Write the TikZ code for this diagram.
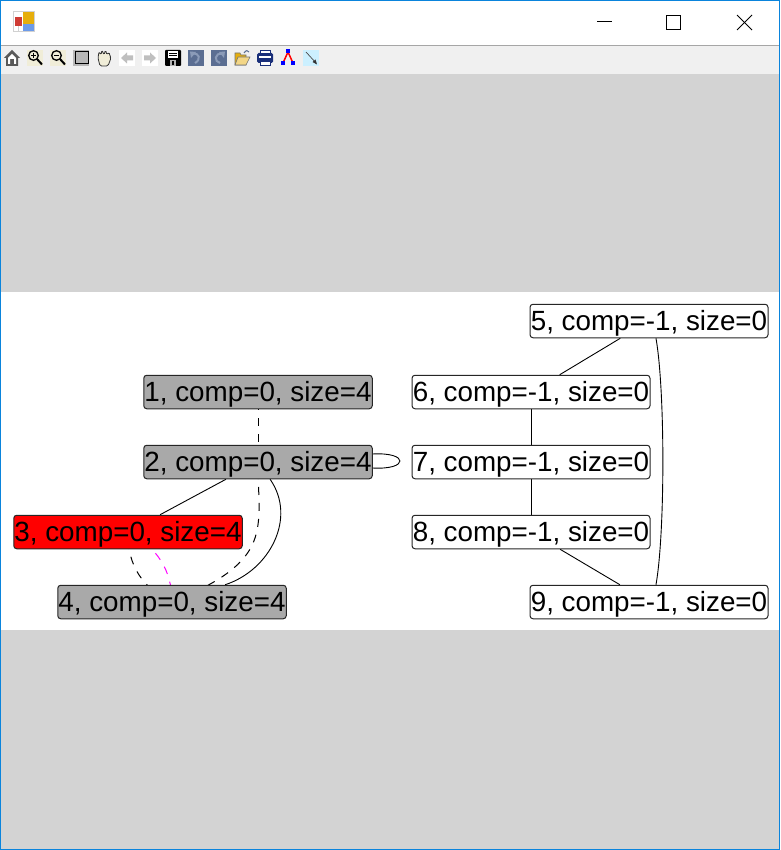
\documentclass[tikz,border=0pt]{standalone}
\usepackage{fontspec}
\setmainfont{Liberation Sans}
\usetikzlibrary{backgrounds}

\definecolor{winblue}{HTML}{0A84DC}
\definecolor{barback}{HTML}{F0F0F0}
\definecolor{panelgray}{HTML}{D3D3D3}
\definecolor{seengray}{HTML}{A9A9A9}
\definecolor{iconbeige}{HTML}{F0EDD8}
\definecolor{iconslate}{HTML}{5B6E92}
\definecolor{iconpale}{HTML}{8B9BB8}
\definecolor{iconnavy}{HTML}{1A2F7A}
\definecolor{icongold}{HTML}{E6AE0C}
\definecolor{iconsky}{HTML}{6C9BEA}
\definecolor{iconred}{HTML}{CF3B34}
\definecolor{purepink}{HTML}{FF00FF}

\tikzset{
	vertex/.style={draw=black!85, line width=1pt, rounded corners=3pt, inner sep=0pt, minimum height=33.5pt, text height=20pt, text depth=2pt, font=\fontsize{27.8}{30}\selectfont},
	seen/.style={vertex, minimum width=228.5pt, fill=seengray},
	fresh/.style={vertex, minimum width=238pt, fill=white},
	edge/.style={line width=0.9pt, black},
	gapped/.style={edge, line width=1pt, dash pattern=on 8pt off 8pt, dash phase=7pt},
	arrowicon/.style={fill=black!25, draw=none},
	slateicon/.style={fill=iconslate, draw=none}
}

\begin{document}
\begin{tikzpicture}[x=1pt, y=-1pt]
		\useasboundingbox (0, 0) rectangle (780, 850);

		\node[seen] (n1) at (258, 392) {1, comp=0, size=4};
		\node[seen] (n2) at (258, 462) {2, comp=0, size=4};
		\node[seen, fill=red] (n3) at (128, 532) {3, comp=0, size=4};
		\node[seen] (n4) at (172, 602) {4, comp=0, size=4};
		\node[fresh] (n5) at (649, 321) {5, comp=-1, size=0};
		\node[fresh] (n6) at (531, 392) {6, comp=-1, size=0};
		\node[fresh] (n7) at (531, 462) {7, comp=-1, size=0};
		\node[fresh] (n8) at (531, 532) {8, comp=-1, size=0};
		\node[fresh] (n9) at (649, 602) {9, comp=-1, size=0};

		\begin{scope}[on background layer]
			\fill[white] (0, 0) rectangle (780, 850);
			\fill[barback] (1, 46) rectangle (779, 74);
			\draw[black!35, line width=0.8pt] (1, 45.5) -- (779, 45.5);
			\fill[panelgray] (1, 74) rectangle (779, 291.5);
			\fill[panelgray] (1, 630) rectangle (779, 849);
			\draw[winblue, line width=1pt] (0.5, 0.5) rectangle (779.5, 849.5);
			\draw[winblue, line width=1pt] (0, 1) -- (780, 1);

			\draw[edge] (n2) -- (n3);
			\draw[edge] (n5) -- (n6);
			\draw[edge] (n6) -- (n7);
			\draw[edge] (n7) -- (n8);
			\draw[edge] (n8) -- (n9);
			\draw[gapped] (n1) -- (n2);
			\draw[gapped] (n2.center) .. controls (258, 530) and (275, 560) .. (n4.center);
			\draw[gapped] (n3.center) .. controls (127, 565) and (143, 589) .. (n4.center);
			\draw[gapped, purepink, dash phase=13pt] (n3.center) .. controls (157, 547) and (172, 570) .. (n4.center);
			\draw[edge] (n2.-55) to[out=-55, in=18, looseness=1.05] (n4.18);
			\draw[edge] (n5.-68) to[out=-80, in=80, looseness=0.55] (n9.68);
			\draw[edge] (n2.4) .. controls (409, 452) and (409, 470) .. (n2.-3.5);
		\end{scope}

		\fill[black!18] (13, 11) rectangle (35, 32);
		\fill[white] (14, 12) rectangle (34, 31);
		\fill[black!18] (18, 26) rectangle (19, 31);
		\fill[icongold] (22.5, 12.5) rectangle (33.5, 24);
		\fill[iconsky] (22.5, 24) rectangle (33.5, 31);
		\fill[iconred] (14.5, 17.5) rectangle (22, 26);

		\draw[black, line width=1pt] (597, 22) -- (612, 22);
		\draw[black, line width=1pt] (666.5, 15.5) rectangle (680.5, 29.5);
		\draw[black, line width=0.9pt] (737, 15) -- (752, 30);
		\draw[black, line width=0.9pt] (752, 15) -- (737, 30);

		\fill[black!65] (4, 58) -- (12, 50) -- (20, 58) -- (18, 58) -- (18, 66) -- (6, 66) -- (6, 58) -- cycle;
		\fill[white] (8, 58) -- (12, 54) -- (16, 58) -- (16, 64) -- (14, 64) -- (14, 59) -- (10, 59) -- (10, 64) -- (8, 64) -- cycle;

		\fill[iconbeige] (27, 50) rectangle (43, 66);
		\draw[black, line width=1.3pt] (33.5, 55.5) circle (4.8);
		\draw[black, line width=2pt] (37, 59) -- (42, 64.5);
		\draw[black, line width=1pt] (31, 55.5) -- (36, 55.5) (33.5, 53) -- (33.5, 58);

		\fill[iconbeige] (50, 50) rectangle (66, 66);
		\draw[black, line width=1.3pt] (56.5, 55.5) circle (4.8);
		\draw[black, line width=2pt] (60, 59) -- (65, 64.5);
		\draw[black, line width=1pt] (54, 55.5) -- (59, 55.5);

		\fill[black!28] (73, 50) rectangle (89, 66);
		\draw[black, line width=1pt] (75, 52) rectangle (88, 64);

		\draw[black!80, fill=iconbeige, line width=0.8pt, rounded corners=1.5pt] (100, 66) -- (98, 58) -- (99, 51.5) -- (101, 55) -- (102, 50) -- (104, 55) -- (105.5, 50) -- (107, 55) -- (109, 52) -- (110, 56) -- (111, 58) -- (108, 66) -- cycle;

		\fill[white] (119, 50) rectangle (135, 66);
		\fill[white] (142, 50) rectangle (158, 66);
		\fill[arrowicon] (121, 58) -- (127, 52.5) -- (127, 55.5) -- (133, 55.5) -- (133, 60.5) -- (127, 60.5) -- (127, 63.5) -- cycle;
		\fill[arrowicon] (156, 58) -- (150, 52.5) -- (150, 55.5) -- (144, 55.5) -- (144, 60.5) -- (150, 60.5) -- (150, 63.5) -- cycle;

		\fill[black, rounded corners=1pt] (165, 50) rectangle (181, 66);
		\fill[white] (168, 51) rectangle (178, 58);
		\draw[black, line width=0.7pt] (169, 53) -- (177, 53) (169, 55.5) -- (177, 55.5);
		\fill[white!70!black] (170, 60.5) rectangle (176, 66);
		\fill[black] (172, 61.5) rectangle (174, 65);

		\fill[slateicon] (188, 50) rectangle (204, 66);
		\draw[iconpale, line width=2pt] (192, 54) .. controls (200, 52) and (201, 60) .. (195, 63);
		\fill[iconpale] (190, 51.5) -- (196, 52) -- (191, 58) -- cycle;

		\fill[slateicon] (211, 50) rectangle (227, 66);
		\draw[iconpale, line width=2pt] (223, 54) .. controls (214, 52) and (214, 62) .. (220, 63);
		\fill[iconpale] (225, 51.5) -- (219, 52) -- (224, 58) -- cycle;

		\fill[icongold, draw=black!55, line width=0.6pt] (235, 65) -- (235, 53) -- (240, 53) -- (241, 55) -- (246, 55) -- (246, 65) -- cycle;
		\fill[icongold!50!white, draw=black!55, line width=0.6pt] (235, 65) -- (238, 57) -- (250, 57) -- (246, 65) -- cycle;
		\draw[iconslate, line width=1pt] (244, 53) .. controls (246, 50) and (248, 50) .. (249, 52);

		\fill[iconnavy, rounded corners=1.5pt] (257, 53) rectangle (273, 63);
		\fill[white] (260, 50.5) rectangle (270, 53);
		\draw[iconnavy, line width=0.8pt] (260, 50.5) rectangle (270, 53);
		\fill[white] (259, 56) rectangle (271, 58);
		\fill[white] (260, 61) rectangle (270, 65);
		\draw[iconnavy, line width=0.8pt] (260, 61) rectangle (270, 65);

		\draw[red, line width=1.5pt] (288, 52) -- (283, 63) (288, 52) -- (293, 63);
		\fill[blue] (286, 49.5) rectangle (290, 53.5);
		\fill[blue] (281, 61.5) rectangle (285, 65.5);
		\fill[blue] (291, 61.5) rectangle (295, 65.5);

		\fill[blue!30!cyan!20] (303, 50) rectangle (319, 66);
		\draw[black!70, line width=0.7pt] (306, 52) -- (316, 63);
		\fill[black!80] (317, 64.5) -- (312.5, 62) -- (315.5, 59.5) -- cycle;
\end{tikzpicture}
\end{document}
